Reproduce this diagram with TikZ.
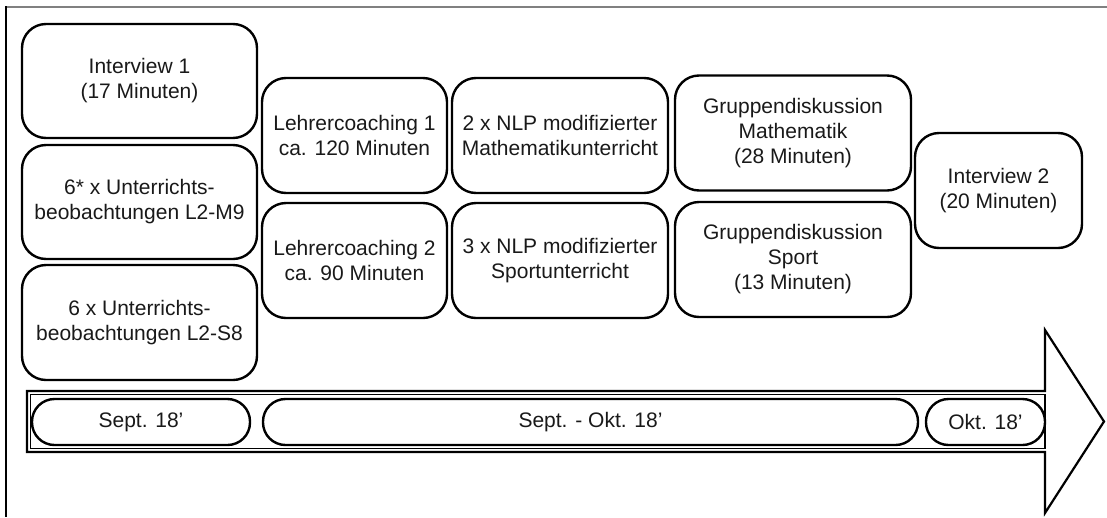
\documentclass[tikz,border=0pt]{standalone}
\usepackage{fontspec}
\setmainfont{Liberation Sans}
\newcommand\boxfont{\fontsize{21}{25}\selectfont}
\tikzset{
  box/.style={draw, line width=2.4pt, rounded corners=24pt, align=center,
    inner sep=0pt, font=\boxfont, text=black!90},
  pill/.style={draw, line width=2.4pt, rounded corners=22.5pt, align=center,
    inner sep=0pt, font=\boxfont, minimum height=46pt, text=black!90},
}
\begin{document}
\begin{tikzpicture}[x=1pt,y=-1pt]
\useasboundingbox (0,0) rectangle (1107,517);
% frame
\draw[line width=2pt, black!50] (6,7) -- (1107,7);
\draw[line width=1.5pt] (6,6) -- (6,517);
% left column
\node[box, minimum width=235pt, minimum height=114pt] (i1) at (139.5,81) {Interview 1\\(17 Minuten)};
\node[box, minimum width=235pt, minimum height=114pt] (u1) at (139.5,202) {6* x Unterrichts-\\beobachtungen L2-M9};
\node[box, minimum width=235pt, minimum height=115pt] (u2) at (139.5,322.5) {6 x Unterrichts-\\beobachtungen L2-S8};
% coaching
\node[box, minimum width=185pt, minimum height=115pt] (l1) at (354.5,135.5) {Lehrercoaching 1\\ca. 120 Minuten};
\node[box, minimum width=185pt, minimum height=115pt] (l2) at (354.5,260.5) {Lehrercoaching 2\\ca. 90 Minuten};
% NLP
\node[box, minimum width=216pt, minimum height=115pt] (n1) at (560,135.5) {2 x NLP modifizierter\\Mathematikunterricht};
\node[box, minimum width=216pt, minimum height=115pt] (n2) at (560,260.5) {3 x NLP modifizierter\\Sportunterricht};
% Gruppendiskussion
\node[box, minimum width=236pt, minimum height=115pt] (g1) at (793,133) {Gruppendiskussion\\Mathematik\\(28 Minuten)};
\node[box, minimum width=236pt, minimum height=115pt] (g2) at (793,259.5) {Gruppendiskussion\\Sport\\(13 Minuten)};
% Interview 2
\node[box, minimum width=167pt, minimum height=115pt] (i2) at (998.5,190.5) {Interview 2\\(20 Minuten)};
% timeline arrow
\draw[line width=2.2pt, line join=miter] (27,391) -- (1045,391) -- (1045,330) -- (1104,421.5) -- (1045,513) -- (1045,452) -- (27,452) -- cycle;
\draw[line width=1.4pt] (30.5,394.5) rectangle (1045,448.5);
\node[pill, minimum width=218pt] (p1) at (141,422) {Sept. 18’};
\node[pill, minimum width=655pt] (p2) at (590.5,422) {Sept. - Okt. 18’};
\node[pill, minimum width=119pt] (p3) at (985.5,422) {Okt. 18’};
\end{tikzpicture}
\end{document}
